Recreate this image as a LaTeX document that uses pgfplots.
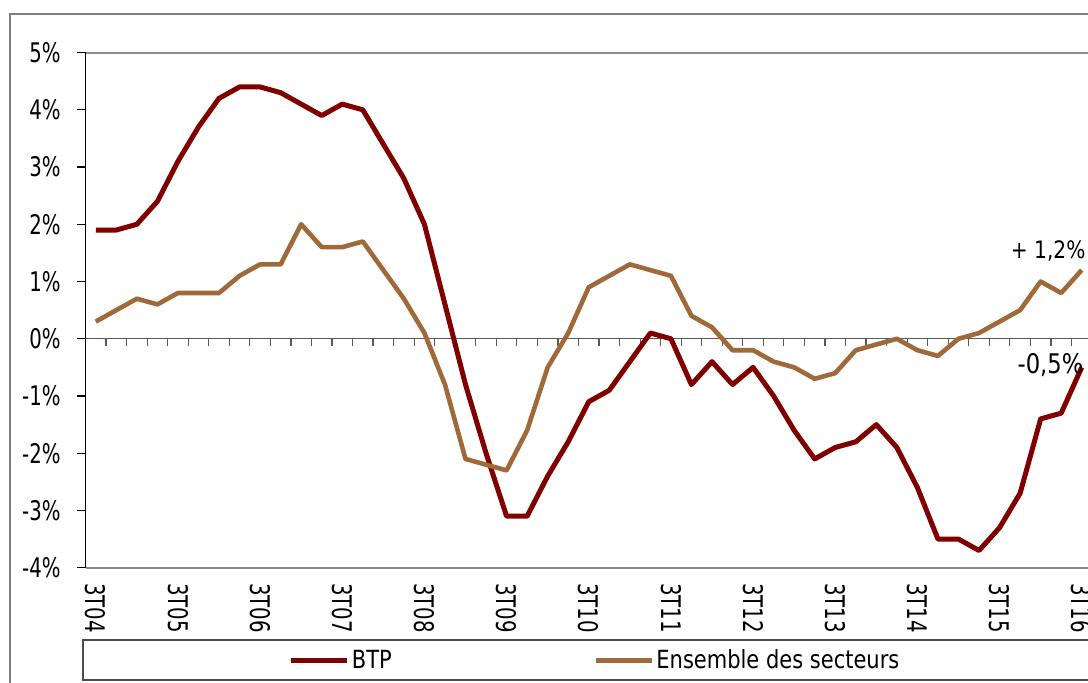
\documentclass[border=0pt]{standalone}
\usepackage{fontspec}
\setmainfont{DejaVu Sans}[FakeStretch=0.84]
\newfontfamily\tickfont{DejaVu Sans}[FakeStretch=0.73]
\usepackage{pgfplots}
\usepackage{pgfplotstable}
\pgfplotsset{compat=1.18}
\definecolor{btp}{HTML}{800000}
\definecolor{ens}{HTML}{A0693A}
\definecolor{frame}{HTML}{7F7F7F}

% quarters 3T04 .. 3T16, index 0..48
\pgfplotstableread{
x y
0 1.9
1 1.9
2 2.0
3 2.4
4 3.1
5 3.7
6 4.2
7 4.4
8 4.4
9 4.3
10 4.1
11 3.9
12 4.1
13 4.0
14 3.4
15 2.8
16 2.0
17 0.6
18 -0.8
19 -2.0
20 -3.1
21 -3.1
22 -2.4
23 -1.8
24 -1.1
25 -0.9
26 -0.4
27 0.1
28 0.0
29 -0.8
30 -0.4
31 -0.8
32 -0.5
33 -1.0
34 -1.6
35 -2.1
36 -1.9
37 -1.8
38 -1.5
39 -1.9
40 -2.6
41 -3.5
42 -3.5
43 -3.7
44 -3.3
45 -2.7
46 -1.4
47 -1.3
48 -0.5
}\btpdata

\pgfplotstableread{
x y
0 0.3
1 0.5
2 0.7
3 0.6
4 0.8
5 0.8
6 0.8
7 1.1
8 1.3
9 1.3
10 2.0
11 1.6
12 1.6
13 1.7
14 1.2
15 0.7
16 0.1
17 -0.8
18 -2.1
19 -2.2
20 -2.3
21 -1.6
22 -0.5
23 0.1
24 0.9
25 1.1
26 1.3
27 1.2
28 1.1
29 0.4
30 0.2
31 -0.2
32 -0.2
33 -0.4
34 -0.5
35 -0.7
36 -0.6
37 -0.2
38 -0.1
39 0.0
40 -0.2
41 -0.3
42 0.0
43 0.1
44 0.3
45 0.5
46 1.0
47 0.8
48 1.2
}\ensdata

\begin{document}
\begin{tikzpicture}
\useasboundingbox (0,0) rectangle (544pt,-341.5pt);
% chart frame and legend box (right side cut off as in the source)
\draw[frame, line width=0.7pt] (5pt,-7pt) rectangle (560pt,-360pt);
\draw[black!70, line width=0.65pt] (41.5pt,-320pt) rectangle (560pt,-340pt);

% zero line with a tick between every quarter
\begin{axis}[
  scale only axis, width=503.25pt, height=257.55pt,
  at={(42.75pt,-283.85pt)}, anchor=south west,
  xmin=-0.5, xmax=48.5, ymin=-4, ymax=5,
  axis x line=middle, axis y line=none,
  x axis line style={-, black!65, line width=0.6pt},
  xtick={0.5,1.5,...,48.5}, xticklabels={},
  tick align=outside, major tick length=3.5pt,
  xtick style={black!65, line width=0.6pt},
]
\addplot[draw=none] coordinates {(0,0)};
\end{axis}

\begin{axis}[
  scale only axis, width=503.25pt, height=257.55pt,
  at={(42.75pt,-283.85pt)}, anchor=south west,
  xmin=-0.5, xmax=48.5, ymin=-4, ymax=5,
  separate axis lines,
  x axis line style={frame!90, line width=1pt},
  y axis line style={black, line width=0.65pt},
  xtick={0,4,...,48},
  xticklabels={3T04,3T05,3T06,3T07,3T08,3T09,3T10,3T11,3T12,3T13,3T14,3T15,3T16},
  xtick style={draw=none},
  xticklabel style={font=\tickfont\fontsize{13.5}{15}\selectfont, rotate=-90, anchor=west, inner sep=0pt},
  xticklabel shift=7.5pt,
  ytick={-4,...,5},
  yticklabels={-4\%,-3\%,-2\%,-1\%,0\%,1\%,2\%,3\%,4\%,5\%},
  ytick pos=left, ytick align=outside,
  ytick style={black, line width=0.65pt}, major tick length=4pt,
  yticklabel style={font=\tickfont\fontsize{13.5}{15}\selectfont, anchor=east, inner sep=0pt},
  yticklabel shift=8.25pt,
  legend columns=2,
  legend style={draw=none, fill=none, at={(0.2017,-0.18)}, anchor=west, inner sep=0pt,
    font=\fontsize{12.5}{14}\selectfont,
    /tikz/every even column/.append style={column sep=100pt},
    nodes={inner sep=1pt}},
  legend image code/.code={\draw[#1] (0pt,0pt) -- (28pt,0pt);},
]
\addplot[btp, line width=2.5pt, line join=round] table[x=x, y=y] {\btpdata};
\addplot[ens, line width=2.3pt, line join=round] table[x=x, y=y] {\ensdata};
\legend{BTP, Ensemble des secteurs}
\node[anchor=base east, inner sep=0pt, font=\fontsize{12}{14}\selectfont] at (axis cs:48.2,1.41) {+ 1,2\%};
\node[anchor=base east, inner sep=0pt, font=\fontsize{13.5}{15}\selectfont] at (axis cs:48.1,-0.60) {-0,5\%};
\end{axis}
\end{tikzpicture}
\end{document}
